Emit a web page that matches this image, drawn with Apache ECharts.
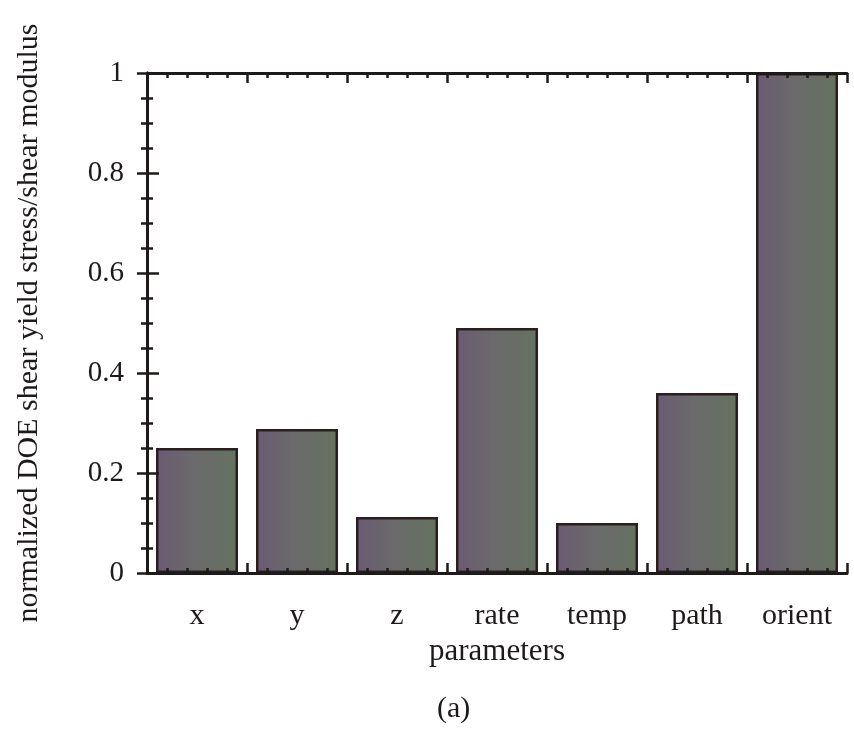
<!DOCTYPE html>
<html>
<head>
<meta charset="utf-8">
<script src="https://cdn.jsdelivr.net/npm/echarts@6/dist/echarts.min.js"></script>
<style>
  html, body { margin: 0; padding: 0; background: #fff; }
  #chart { width: 854px; height: 731px; }
</style>
</head>
<body>
<div id="chart"></div>
<script>
// categories and values
const categories = ['x', 'y', 'z', 'rate', 'temp', 'path', 'orient'];
const values = [0.25, 0.288, 0.112, 0.49, 0.10, 0.36, 1.0];
const yTicks = [0, 0.2, 0.4, 0.6, 0.8, 1];

const font = 'Liberation Serif';
const ink = '#1e1a1a';

// scanned bars look like a noisy purple/green mix
function barFill() {
  return new echarts.graphic.LinearGradient(0, 0, 1, 0, [
    { offset: 0, color: '#6a5a72' },
    { offset: 0.45, color: '#6b6a6c' },
    { offset: 1, color: '#657260' },
  ]);
}

const myChart = echarts.init(document.getElementById('chart'));

// value axes used only for the tick marks around the frame
function tickAxis(pos, extra) {
  return Object.assign({
    type: 'value',
    position: pos,
    min: 0,
    z: 10,
    axisLine: { show: true, lineStyle: { color: ink, width: 3 } },
    axisTick: { show: true, inside: true, length: 10, lineStyle: { color: ink, width: 2.5 } },
    minorTick: { show: true, splitNumber: 5, length: 5, lineStyle: { color: ink, width: 2.5 } },
    axisLabel: { show: false },
    splitLine: { show: false },
  }, extra);
}

const option = {
  backgroundColor: '#fff',
  animation: false,
  grid: { left: 147, top: 73, width: 700, height: 500, containLabel: false },
  xAxis: [
    {
      type: 'category',
      data: categories,
      position: 'bottom',
      z: 10,
      axisLine: { show: false },
      axisTick: { show: false },
      axisLabel: { margin: 28, color: ink, fontFamily: font, fontSize: 30 },
      name: 'parameters',
      nameLocation: 'middle',
      nameGap: 62,
      nameTextStyle: { color: ink, fontFamily: font, fontSize: 31 },
    },
    tickAxis('bottom', { max: 7, interval: 1 }),
    tickAxis('top', { max: 7, interval: 1 }),
  ],
  yAxis: [
    {
      type: 'value',
      position: 'left',
      min: 0,
      max: 1,
      interval: 0.2,
      z: 10,
      axisLine: { show: true, lineStyle: { color: ink, width: 3 } },
      axisTick: { show: true, inside: true, length: 12, lineStyle: { color: ink, width: 2.5 } },
      minorTick: { show: true, splitNumber: 4, length: 6, lineStyle: { color: ink, width: 2.5 } },
      splitLine: { show: false },
      axisLabel: {
        margin: 23,
        color: ink,
        fontFamily: font,
        fontSize: 29,
        formatter: function (v) {
          const hit = yTicks.find(t => Math.abs(t - v) < 1e-6);
          return hit === undefined ? '' : String(hit);
        },
      },
      name: 'normalized DOE shear yield stress/shear modulus',
      nameLocation: 'middle',
      nameGap: 103,
      nameTextStyle: { color: ink, fontFamily: font, fontSize: 30 },
    },
    tickAxis('right', { max: 1, interval: 0.2, minorTick: { show: true, splitNumber: 4, length: 6, lineStyle: { color: ink, width: 2.5 } } }),
  ],
  graphic: [
    {
      type: 'text',
      left: 437,
      top: 694,
      style: { text: '(a)', fill: ink, font: '30px "Liberation Serif"' },
    },
  ],
  series: [
    {
      type: 'bar',
      xAxisIndex: 0,
      yAxisIndex: 0,
      data: values,
      barWidth: '82%',
      z: 2,
      itemStyle: {
        color: barFill(),
        borderColor: '#2a1e1e',
        borderWidth: 2.5,
      },
    },
  ],
};

myChart.setOption(option);
window.onresize = myChart.resize;
</script>
</body>
</html>
